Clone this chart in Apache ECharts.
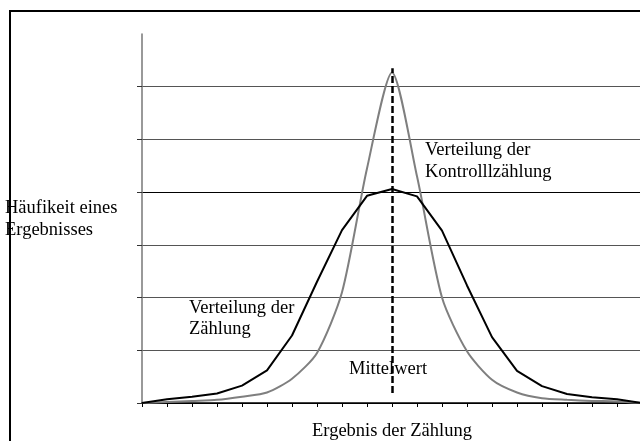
<!DOCTYPE html>
<html>
<head>
<meta charset="utf-8">
<script src="https://cdn.jsdelivr.net/npm/echarts@6/dist/echarts.min.js"></script>
<style>
  html, body { margin: 0; padding: 0; background: #fff; }
  #chart { width: 640px; height: 441px; }
</style>
</head>
<body>
<div id="chart"></div>
<script>
// Werte (Ergebnis der Zählung = Kategorie 0..20)
const categories = ['0','1','2','3','4','5','6','7','8','9','10','11','12','13','14','15','16','17','18','19','20'];
const zaehlung = [0, 0.07, 0.12, 0.18, 0.33, 0.62, 1.28, 2.3, 3.28, 3.93, 4.06, 3.92, 3.27, 2.23, 1.25, 0.61, 0.32, 0.17, 0.11, 0.07, 0];
const kontrollzaehlung = [0, 0.02, 0.04, 0.06, 0.12, 0.2, 0.46, 0.95, 2.1, 4.45, 6.27, 4.3, 2.0, 0.98, 0.44, 0.2, 0.09, 0.06, 0.04, 0.03, 0];
const yTicks = [0, 1, 2, 3, 4, 5, 6];
const mittelwertIndex = '10';
const mittelwertRange = [0.19, 6.35];

const font = '"Liberation Serif", "Times New Roman", serif';
const fontSize = 18.5;

const chart = echarts.init(document.getElementById('chart'));

const option = {
  animation: false,
  backgroundColor: '#fff',
  grid: { left: 142, top: 34, width: 500, height: 369, outerBoundsMode: 'none', containLabel: false },
  xAxis: {
    type: 'category',
    data: categories,
    boundaryGap: false,
    name: 'Ergebnis der Zählung',
    nameLocation: 'middle',
    nameGap: 19,
    nameTextStyle: { fontFamily: font, fontSize: fontSize, color: '#000' },
    axisLine: { lineStyle: { color: '#000', width: 1.5 } },
    axisTick: { show: true, length: 4, lineStyle: { color: '#000' } },
    axisLabel: { show: false },
    splitLine: { show: false }
  },
  yAxis: {
    type: 'value',
    min: 0,
    max: 7,
    interval: 1,
    axisLine: { show: true, lineStyle: { color: '#777', width: 1.5 } },
    axisTick: { show: true, length: 5, customValues: yTicks, lineStyle: { color: '#333' } },
    axisLabel: { show: false },
    splitLine: {
      show: true,
      lineStyle: {
        color: ['#000', '#555', '#555', '#555', '#000', '#555', '#555', 'rgba(0,0,0,0)'],
        width: 1
      }
    }
  },
  series: [
    {
      name: 'Verteilung der Zählung',
      type: 'line',
      data: zaehlung,
      symbol: 'none',
      lineStyle: { color: '#000', width: 2 },
      z: 3
    },
    {
      name: 'Verteilung der Kontrolllzählung',
      type: 'line',
      data: kontrollzaehlung,
      symbol: 'none',
      smooth: 0.25,
      lineStyle: { color: '#7f7f7f', width: 2 },
      z: 2,
      markLine: {
        silent: true,
        symbol: ['none', 'none'],
        label: { show: false },
        lineStyle: { color: '#000', width: 2.5, type: [7, 3] },
        data: [[
          { coord: [mittelwertIndex, mittelwertRange[0]] },
          { coord: [mittelwertIndex, mittelwertRange[1]] }
        ]],
        z: 4
      }
    }
  ],
  graphic: [
    {
      type: 'rect',
      shape: { x: 10, y: 11, width: 700, height: 500 },
      style: { fill: 'none', stroke: '#000', lineWidth: 2 },
      silent: true
    },
    {
      type: 'text', left: 5, top: 197,
      style: { text: 'Häufikeit eines\nErgebnisses', font: fontSize + 'px ' + font, fill: '#000', lineHeight: 22 }
    },
    {
      type: 'text', left: 425, top: 139,
      style: { text: 'Verteilung der\nKontrolllzählung', font: fontSize + 'px ' + font, fill: '#000', lineHeight: 22 }
    },
    {
      type: 'text', left: 189, top: 298,
      style: { text: 'Verteilung der\nZählung', font: fontSize + 'px ' + font, fill: '#000', lineHeight: 21 }
    },
    {
      type: 'text', left: 349, top: 360,
      style: { text: 'Mittelwert', font: fontSize + 'px ' + font, fill: '#000' }
    }
  ]
};

chart.setOption(option);
</script>
</body>
</html>
